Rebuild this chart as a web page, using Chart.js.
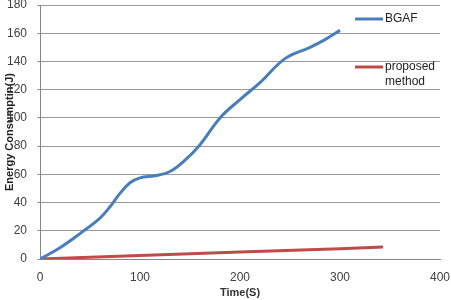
<!DOCTYPE html>
<html>
<head>
<meta charset="utf-8">
<script src="https://cdn.jsdelivr.net/npm/chart.js@4"></script>
<style>
  html, body { margin: 0; padding: 0; background: #fff; }
  #wrap { width: 451px; height: 300px; }
</style>
</head>
<body>
<div id="wrap"><canvas id="chart"></canvas></div>
<script>
const bgafTimes = [0, 20, 40, 60, 70, 80, 90, 100, 115, 130, 145, 160, 180, 200, 220, 245, 270, 285, 300]
const bgafEnergy = [0, 8, 18, 29, 37, 46.5, 54, 57.5, 59, 62, 70, 81, 100, 113, 125, 142, 150, 155.5, 162]
const proposedTimes = [0, 100, 200, 300, 343]
const proposedEnergy = [0, 2.5, 5, 7.3, 8.5]
const xTicks = [0, 100, 200, 300, 400]
const yTicks = [0, 20, 40, 60, 80, 100, 120, 140, 160, 180]

const toPoints = (xs, ys) => xs.map((x, i) => ({ x, y: ys[i] }))

// the scales would otherwise push the plot inwards for the end labels
const noOverflow = (s) => {
  s.paddingTop = 0
  s.paddingBottom = 0
  s.paddingLeft = 0
  s.paddingRight = 0
}

// legend drawn inside the plot, on the right, like the original
const insideLegend = {
  id: "insideLegend",
  afterDatasetsDraw(chart) {
    const { ctx } = chart
    const rows = [
      { y: 19, lines: ["BGAF"] },
      { y: 67, lines: ["proposed", "method"] },
    ]
    ctx.save()
    ctx.font = "12px 'Liberation Sans', Arial, sans-serif"
    ctx.fillStyle = "#222"
    ctx.textBaseline = "middle"
    chart.data.datasets.forEach((ds, i) => {
      const r = rows[i]
      ctx.strokeStyle = ds.borderColor
      ctx.lineWidth = 3
      ctx.beginPath()
      ctx.moveTo(355, r.y)
      ctx.lineTo(383, r.y)
      ctx.stroke()
      r.lines.forEach((t, j) => ctx.fillText(t, 385, r.y + j * 15))
    })
    ctx.restore()
  },
}

const tickFont = { family: "'Liberation Sans', Arial, sans-serif", size: 12 }
const titleFont = { family: "'Liberation Sans', Arial, sans-serif", size: 11, weight: "bold" }

new Chart(document.getElementById("chart"), {
  type: "line",
  data: {
    datasets: [
      {
        label: "BGAF",
        data: toPoints(bgafTimes, bgafEnergy),
        borderColor: "#4a7ebb",
        borderWidth: 3,
        pointRadius: 0,
        tension: 0.4,
      },
      {
        label: "proposed method",
        data: toPoints(proposedTimes, proposedEnergy),
        borderColor: "#be4b48",
        borderWidth: 3,
        pointRadius: 0,
      },
    ],
  },
  options: {
    responsive: true,
    maintainAspectRatio: false,
    animation: false,
    layout: { padding: { left: 0, right: 11, top: 5, bottom: 0 } },
    plugins: { legend: { display: false }, tooltip: { enabled: false } },
    scales: {
      x: {
        type: "linear",
        min: 0,
        max: 400,
        afterBuildTicks: (s) => { s.ticks = xTicks.map((v) => ({ value: v })) },
        afterFit: (s) => { s.height = 41; noOverflow(s) },
        grid: { display: false, drawTicks: true, tickLength: 4, color: "#868686" },
        border: { color: "#868686" },
        ticks: { color: "#404040", font: tickFont, padding: 7, maxRotation: 0 },
        title: { display: true, text: "Time(S)", color: "#333", font: titleFont, padding: { top: 1, bottom: 0 } },
      },
      y: {
        min: 0,
        max: 180,
        afterBuildTicks: (s) => { s.ticks = yTicks.map((v) => ({ value: v })) },
        afterFit: (s) => { s.width = 40; noOverflow(s) },
        grid: { color: "#9a9a9a", tickLength: 3 },
        border: { color: "#868686" },
        ticks: { color: "#404040", font: tickFont, padding: 10 },
        title: { display: true, text: "Energy Consumptin(J)", color: "#222", font: titleFont, padding: { top: 3, bottom: 0 } },
      },
    },
  },
  plugins: [insideLegend],
})
</script>
</body>
</html>
